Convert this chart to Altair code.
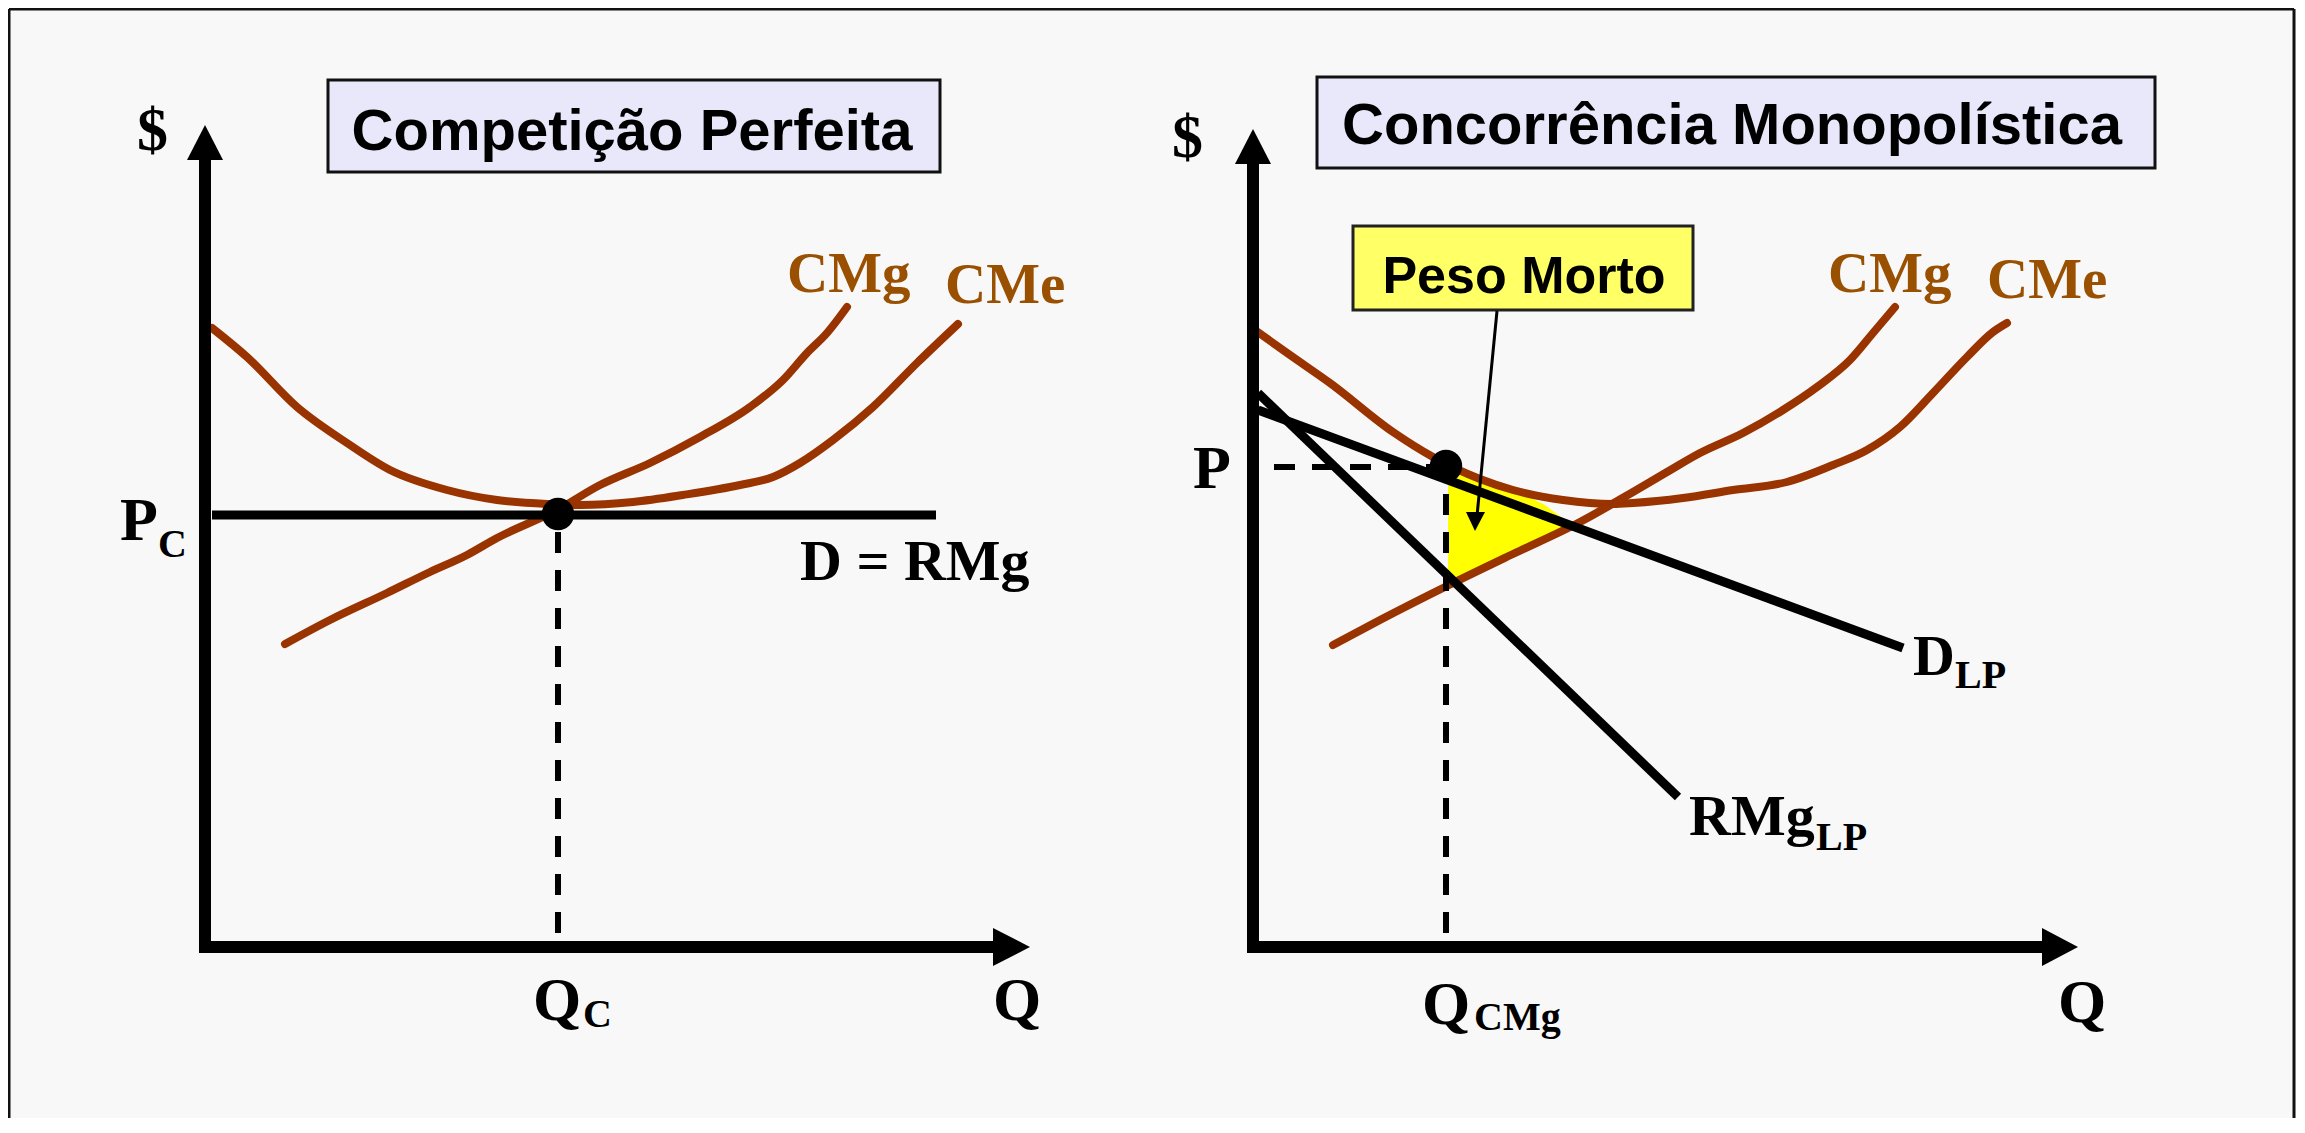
import altair as alt
import pandas as pd

# Canvas: one shared coordinate system in reference pixels (y grows downward)
WIDTH, HEIGHT = 2288, 1110
X_DOMAIN = [8, 8 + WIDTH]
Y_DOMAIN = [8, 8 + HEIGHT]

CURVE_COLOR = "#993300"
LABEL_BROWN = "#995000"

# ---------------- Left panel: Competição Perfeita ----------------
L_CME_X = [212, 247, 297, 347, 390, 447, 497, 547, 580, 633, 683, 740, 773, 800, 833, 873, 917, 958]
L_CME_Y = [328, 357, 407, 443, 470, 490, 500, 504, 505, 502, 495, 485, 477, 463, 440, 407, 363, 324]
L_CMG_X = [285, 330, 387, 430, 467, 497, 557, 600, 650, 700, 750, 783, 807, 827, 847]
L_CMG_Y = [644, 620, 593, 572, 555, 538, 510, 485, 463, 437, 407, 380, 353, 333, 307]

# ---------------- Right panel: Concorrência Monopolística ----------------
R_CME_X = [1252, 1290, 1330, 1393, 1433, 1480, 1513, 1563, 1613, 1633, 1683, 1733, 1787, 1833, 1867, 1900, 1933, 1967, 1993, 2007]
R_CME_Y = [328, 355, 383, 432, 457, 479, 490, 500, 504, 503, 498, 490, 482, 465, 450, 427, 393, 357, 332, 323]
R_CMG_X = [1333, 1380, 1447, 1513, 1580, 1633, 1667, 1700, 1743, 1783, 1817, 1850, 1873, 1895]
R_CMG_Y = [645, 620, 586, 554, 522, 492, 472, 453, 433, 410, 387, 360, 333, 307]

# deadweight-loss triangle (between demand/CMe on top and CMg below)
DWL_X = [1448, 1480, 1515, 1545, 1573]
DWL_TOP = [470, 479, 490, 505, 526]
DWL_BOT = [584, 570, 554, 539, 526]

# straight black schedules: D = RMg, D_LP, RMg_LP  (x, y, x2, y2)
LINES = [
    ("D=RMg", 212, 515, 936, 515),
    ("D_LP", 1258, 410, 1903, 648),
    ("RMg_LP", 1258, 393, 1678, 797),
]
# dashed guide lines (start at the axis end)
DASHES = [
    ("Qc", 558, 933, 558, 532),
    ("Qcmg", 1446, 933, 1446, 484),
    ("P", 1274, 467, 1446, 467),
]
# axes
AXES = [
    ("L_y", 205, 160, 205, 953),
    ("L_x", 199, 947, 995, 947),
    ("R_y", 1253, 164, 1253, 953),
    ("R_x", 1247, 947, 2044, 947),
]
UP_HEADS = {"L": ([187, 205, 223], [160, 125, 160], 160), "R": ([1235, 1253, 1271], [164, 129, 164], 164)}
RIGHT_HEADS = {"L": ([928, 947, 966], [993, 1030, 993], 993), "R": ([928, 947, 966], [2042, 2078, 2042], 2042)}
# equilibrium dots
DOTS_X = [558, 1446]
DOTS_Y = [514, 466]
# title boxes
BOXES = [
    ("Competição Perfeita", 328, 80, 940, 172),
    ("Concorrência Monopolística", 1317, 77, 2155, 168),
]
PESO_BOX = (1353, 226, 1693, 310)
PESO_POINTER = (1497, 311, 1477, 516)
PESO_HEAD = ([1466, 1475, 1485], [512, 531, 512], 512)

TITLES = [("Competição Perfeita", 632, 150), ("Concorrência Monopolística", 1732, 144)]
PESO_TEXT = [("Peso Morto", 1524, 293)]
BIG_LABELS = [("$", 137, 150), ("$", 1172, 157), ("P", 120, 540), ("P", 1193, 488),
              ("Q", 533, 1020), ("Q", 993, 1020), ("Q", 1422, 1024), ("Q", 2058, 1022)]
MID_LABELS = [("D = RMg", 800, 580), ("D", 1913, 675), ("RMg", 1689, 835)]
SUB_LABELS = [("C", 158, 557), ("C", 583, 1027), ("LP", 1955, 688), ("LP", 1816, 850), ("CMg", 1474, 1030)]
COST_LABELS = [("CMg", 787, 292), ("CMe", 945, 303), ("CMg", 1828, 292), ("CMe", 1987, 298)]

xs = alt.Scale(domain=X_DOMAIN, zero=False, nice=False)
ys = alt.Scale(domain=Y_DOMAIN, zero=False, nice=False, reverse=True)


def X(f="x"):
    return alt.X(f"{f}:Q", scale=xs, axis=None)


def Y(f="y"):
    return alt.Y(f"{f}:Q", scale=ys, axis=None)


def seg_df(rows):
    return pd.DataFrame(rows, columns=["id", "x", "y", "x2", "y2"])


def curve_df(name, xv, yv):
    return pd.DataFrame({"curve": name, "x": xv, "y": yv, "i": range(len(xv))})


layers = []

# frame
frame = seg_df([("l", 9, 9, 9, 1118), ("t", 9, 9, 2294, 9), ("r", 2294, 9, 2294, 1118)])
layers.append(alt.Chart(frame).mark_rule(color="#111111", strokeWidth=3).encode(
    x=X(), y=Y(), x2=alt.X2("x2"), y2=alt.Y2("y2")))

# title boxes
boxes = pd.DataFrame(BOXES, columns=["t", "x", "y", "x2", "y2"])
layers.append(alt.Chart(boxes).mark_rect(fill="#e8e8fa", stroke="#111111", strokeWidth=3).encode(
    x=X(), y=Y(), x2=alt.X2("x2"), y2=alt.Y2("y2")))
peso = pd.DataFrame([PESO_BOX], columns=["x", "y", "x2", "y2"])
layers.append(alt.Chart(peso).mark_rect(fill="#ffff66", stroke="#222222", strokeWidth=3).encode(
    x=X(), y=Y(), x2=alt.X2("x2"), y2=alt.Y2("y2")))

# deadweight loss area
dwl = pd.DataFrame({"x": DWL_X, "y": DWL_TOP, "y2": DWL_BOT})
layers.append(alt.Chart(dwl).mark_area(color="#ffff00", opacity=1).encode(
    x=X(), y=Y(), y2=alt.Y2("y2")))

# cost curves
curves = pd.concat([
    curve_df("L_CMe", L_CME_X, L_CME_Y), curve_df("L_CMg", L_CMG_X, L_CMG_Y),
    curve_df("R_CMe", R_CME_X, R_CME_Y), curve_df("R_CMg", R_CMG_X, R_CMG_Y),
])
layers.append(alt.Chart(curves).mark_line(
    color=CURVE_COLOR, strokeWidth=8, strokeCap="round", strokeJoin="round", interpolate="monotone"
).encode(x=X(), y=Y(), detail="curve:N", order="i:Q"))

# demand / revenue lines
layers.append(alt.Chart(seg_df(LINES)).mark_rule(color="black", strokeWidth=9).encode(
    x=X(), y=Y(), x2=alt.X2("x2"), y2=alt.Y2("y2")))

# dashed guides
layers.append(alt.Chart(seg_df(DASHES)).mark_rule(color="black", strokeWidth=6, strokeDash=[21, 17]).encode(
    x=X(), y=Y(), x2=alt.X2("x2"), y2=alt.Y2("y2")))

# axes
layers.append(alt.Chart(seg_df(AXES)).mark_rule(color="black", strokeWidth=12).encode(
    x=X(), y=Y(), x2=alt.X2("x2"), y2=alt.Y2("y2")))

up_rows = []
for k, (hx, hy, base) in UP_HEADS.items():
    for a, b in zip(hx, hy):
        up_rows.append({"id": k, "x": a, "y": b, "y2": base})
layers.append(alt.Chart(pd.DataFrame(up_rows)).mark_area(color="black", opacity=1).encode(
    x=X(), y=Y(), y2=alt.Y2("y2"), detail="id:N"))

rt_rows = []
for k, (hy, hx, base) in RIGHT_HEADS.items():
    for a, b in zip(hy, hx):
        rt_rows.append({"id": k, "y": a, "x": b, "x2": base})
layers.append(alt.Chart(pd.DataFrame(rt_rows)).mark_area(color="black", opacity=1, orient="horizontal").encode(
    x=X(), y=Y(), x2=alt.X2("x2"), detail="id:N"))

# Peso Morto pointer
ptr = pd.DataFrame([PESO_POINTER], columns=["x", "y", "x2", "y2"])
layers.append(alt.Chart(ptr).mark_rule(color="black", strokeWidth=3).encode(
    x=X(), y=Y(), x2=alt.X2("x2"), y2=alt.Y2("y2")))
ph = pd.DataFrame({"x": PESO_HEAD[0], "y": PESO_HEAD[1], "y2": PESO_HEAD[2]})
layers.append(alt.Chart(ph).mark_area(color="black", opacity=1).encode(
    x=X(), y=Y(), y2=alt.Y2("y2")))

# equilibrium dots
dots = pd.DataFrame({"x": DOTS_X, "y": DOTS_Y})
layers.append(alt.Chart(dots).mark_circle(color="black", size=1050, opacity=1).encode(x=X(), y=Y()))


def text_layer(rows, **kw):
    df = pd.DataFrame(rows, columns=["t", "x", "y"])
    return alt.Chart(df).mark_text(baseline="alphabetic", **kw).encode(x=X(), y=Y(), text="t:N")


SANS = "Liberation Sans, Arial, sans-serif"
SERIF = "Liberation Serif, Times New Roman, serif"
layers.append(text_layer(TITLES, font=SANS, fontWeight="bold", fontSize=58, align="center", color="black"))
layers.append(text_layer(PESO_TEXT, font=SANS, fontWeight="bold", fontSize=52, align="center", color="black"))
layers.append(text_layer(BIG_LABELS, font=SERIF, fontWeight="bold", fontSize=62, align="left", color="black"))
layers.append(text_layer(MID_LABELS, font=SERIF, fontWeight="bold", fontSize=58, align="left", color="black"))
layers.append(text_layer(SUB_LABELS, font=SERIF, fontWeight="bold", fontSize=40, align="left", color="black"))
layers.append(text_layer(COST_LABELS, font=SERIF, fontWeight="bold", fontSize=57, align="left", color=LABEL_BROWN))

chart = alt.layer(*layers).properties(
    width=WIDTH, height=HEIGHT, padding=0,
    autosize=alt.AutoSizeParams(type="none"),
    background="#f8f8f8",
).configure_view(stroke=None)

chart.save("out.html", embed_options={"renderer": "svg", "actions": False})
